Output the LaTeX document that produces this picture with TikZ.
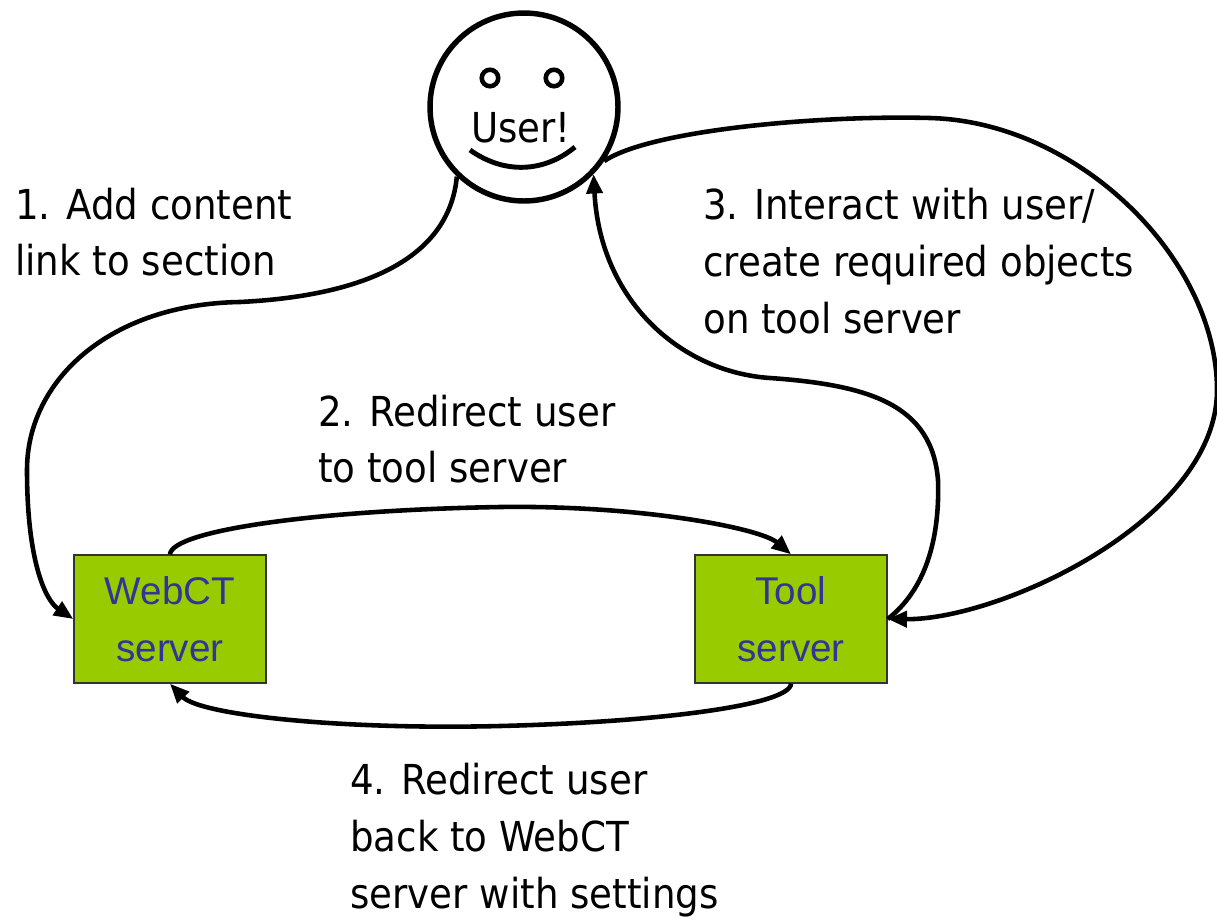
\documentclass[tikz,border=0pt]{standalone}
\usepackage{fontspec}
\setmainfont{DejaVu Sans Condensed}
\newfontfamily\boxfont{Liberation Sans}
\usetikzlibrary{arrows.meta}
\definecolor{boxgreen}{HTML}{99CC00}
\definecolor{boxtext}{HTML}{333399}
\tikzset{
    server/.style={rectangle, draw=black!80, line width=0.8pt, fill=boxgreen, minimum width=3.84cm, minimum height=2.56cm, inner sep=0pt, align=center, text=boxtext, font=\boxfont\fontsize{22}{32.3}\selectfont},
    lbl/.style={anchor=west, align=left, inner sep=0pt, font=\fontsize{23.5}{32.3}\selectfont},
    link/.style={line width=2.6pt, -{Triangle[length=11pt,width=9pt]}},
    eye/.style={circle, draw, line width=2.6pt, minimum size=0.33cm, inner sep=0pt}
}
\begin{document}
\begin{tikzpicture}[x=0.02cm, y=-0.02cm]
        \useasboundingbox (0,0) rectangle (1217,917);

        % the user
        \node[circle, draw, line width=3.1pt, minimum size=3.76cm, inner sep=0pt] (user) at (524,107) {};
        \foreach \e/\ex in {L/490, R/554}
            \node[eye] (eye\e) at (\ex,78) {};
        \node[anchor=base, inner sep=0pt, font=\fontsize{23.5}{32.3}\selectfont] (usertxt) at (521,142) {User!};
        \draw[line width=2.8pt] (470,150) .. controls (505,175) and (545,172) .. (575,147);

        % servers
        \node[server] (web) at (170,619) {WebCT\\server};
        \node[server] (tool) at (791,619) {Tool\\server};

        % 1
        \draw[link] (user.226) .. controls (450,250) and (380,295) .. (240,302)
            .. controls (110,304) and (27,380) .. (27,470)
            .. controls (27,560) and (45,600) .. (web.west);
        % 2
        \draw[link] (web.north) .. controls (172,530) and (320,510) .. (500,507)
            .. controls (640,505) and (760,528) .. (tool.north);
        % 3
        \draw[link] (tool.east) .. controls (925,590) and (940,540) .. (938,480)
            .. controls (932,405) and (870,385) .. (770,378)
            .. controls (680,372) and (600,300) .. (user.-44);
        \draw[link] (user.-34) .. controls (650,130) and (820,115) .. (930,118)
            .. controls (1080,122) and (1217,260) .. (1217,390)
            .. controls (1217,520) and (1000,620) .. (tool.east);
        % 4
        \draw[link] (tool.south) .. controls (790,705) and (660,722) .. (500,726)
            .. controls (340,730) and (200,715) .. (web.south);

        \node[lbl] (step1) at (15,232) {1. Add content\\link to section};
        \node[lbl] (step2) at (318,439) {2. Redirect user\\to tool server};
        \node[lbl] (step3) at (703,261) {3. Interact with user/\\create required objects\\on tool server};
        \node[lbl] (step4) at (350,840) {4. Redirect user\\back to WebCT\\server with settings};
\end{tikzpicture}
\end{document}
